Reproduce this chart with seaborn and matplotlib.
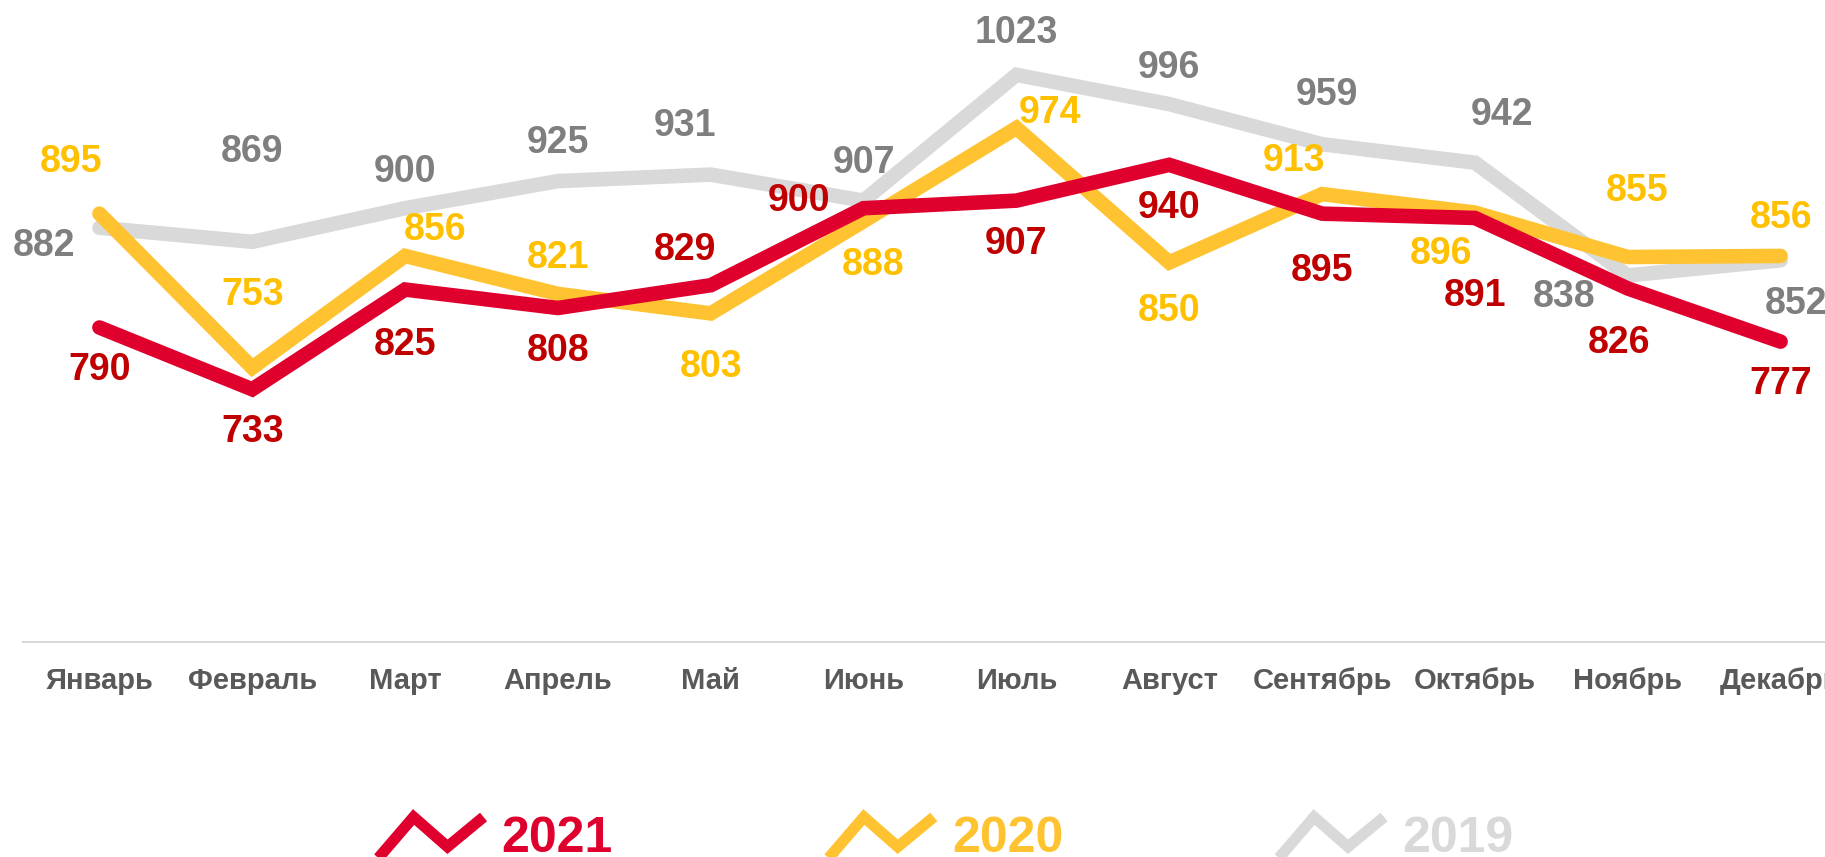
"""
Monthly values 2019-2021 as a line chart with value labels.
"""

import matplotlib
matplotlib.use("Agg")

import matplotlib.pyplot as plt
import numpy as np
import pandas as pd
import seaborn as sns
from matplotlib.legend_handler import HandlerBase
from matplotlib.lines import Line2D

months = ["Январь", "Февраль", "Март", "Апрель", "Май", "Июнь",
          "Июль", "Август", "Сентябрь", "Октябрь", "Ноябрь", "Декабрь"]
years = ["2021", "2020", "2019"]
values_2021 = [790, 733, 825, 808, 829, 900, 907, 940, 895, 891, 826, 777]
values_2020 = [895, 753, 856, 821, 803, 888, 974, 850, 913, 896, 855, 856]
values_2019 = [882, 869, 900, 925, 931, 907, 1023, 996, 959, 942, 838, 852]

line_colors = {"2021": "#E0002D", "2020": "#FFC331", "2019": "#D9D9D9"}
label_colors = {"2021": "#C00000", "2020": "#FFC000", "2019": "#7F7F7F"}

# label offsets in pixels (dx, dy) so they sit where the original put them
offsets = {
    "2021": [(0, -42), (0, -43), (0, -55), (0, -43), (-26, 35), (-65, 7),
             (0, -43), (0, -43), (0, -57), (0, -78), (-9, -55), (0, -42)],
    "2020": [(-28, 52), (0, 73), (30, 26), (0, 36), (0, -54), (9, -44),
             (34, 15), (0, -49), (-28, 33), (-34, -41), (9, 66), (0, 38)],
    "2019": [(-55, -18), (0, 90), (0, 36), (0, 38), (-26, 49), (0, 38),
             (0, 42), (0, 36), (5, 49), (27, 48), (-64, -22), (15, -44)],
}

FONT = ["Liberation Sans", "DejaVu Sans"]


class ZigzagHandler(HandlerBase):
    """Draws the small line-chart glyph used in the legend."""

    def create_artists(self, legend, orig_handle, xdescent, ydescent,
                       width, height, fontsize, trans):
        xs = np.array([0.0, 0.34, 0.66, 1.0]) * width - xdescent
        ys = np.array([-0.2, 1.0, 0.15, 1.0]) * height - ydescent
        line = Line2D(xs, ys, color=orig_handle.get_color(), lw=8,
                      solid_joinstyle="miter", solid_capstyle="butt")
        line.set_transform(trans)
        return [line]


def main():
    sns.set_theme(style="white")
    plt.rcParams["font.family"] = FONT
    plt.rcParams["font.weight"] = "bold"

    series = {"2021": values_2021, "2020": values_2020, "2019": values_2019}
    df = pd.DataFrame(
        [(m, i, y, v) for y in years for i, (m, v) in enumerate(zip(months, series[y]))],
        columns=["month", "idx", "year", "value"],
    )

    fig = plt.figure(figsize=(18.25, 8.57), dpi=100)
    ax = fig.add_axes([23 / 1825, 215 / 857, (1857 - 23) / 1825, 642 / 857])

    sns.lineplot(
        data=df, x="idx", y="value", hue="year",
        hue_order=["2019", "2020", "2021"], palette=line_colors,
        linewidth=10.5, solid_capstyle="round", solid_joinstyle="miter",
        sort=False, legend=False, ax=ax,
    )

    for y in years:
        for i, v in enumerate(series[y]):
            ax.annotate(
                f"{v}", (i, v), xytext=offsets[y][i], textcoords="offset pixels",
                ha="center", va="center", fontsize=27, fontweight="bold",
                color=label_colors[y],
            )

    ax.set_xlim(-0.5, 11.5)
    ax.set_ylim(500, 1092)
    ax.set_xticks(range(len(months)))
    ax.set_xticklabels(months)
    ax.set_yticks([])
    ax.set_xlabel("")
    ax.set_ylabel("")
    ax.tick_params(axis="x", length=0, pad=18, labelsize=21, labelcolor="#595959")
    for lbl in ax.get_xticklabels():
        lbl.set_fontweight("bold")
    for side in ["top", "left", "right"]:
        ax.spines[side].set_visible(False)
    ax.spines["bottom"].set_color("#D9D9D9")
    ax.spines["bottom"].set_linewidth(1.5)

    handles = [Line2D([], [], color=line_colors[y]) for y in years]
    leg = fig.legend(
        handles, years, loc="center", bbox_to_anchor=(0.518, 18 / 857),
        ncol=3, frameon=False, fontsize=36, handlelength=2.12,
        handletextpad=0.36, columnspacing=4.3, borderpad=0,
        handler_map={Line2D: ZigzagHandler()},
    )
    for txt, y in zip(leg.get_texts(), years):
        txt.set_color(line_colors[y])
        txt.set_fontweight("bold")

    fig.savefig("out.png", dpi=100)
    plt.close(fig)


if __name__ == "__main__":
    main()
